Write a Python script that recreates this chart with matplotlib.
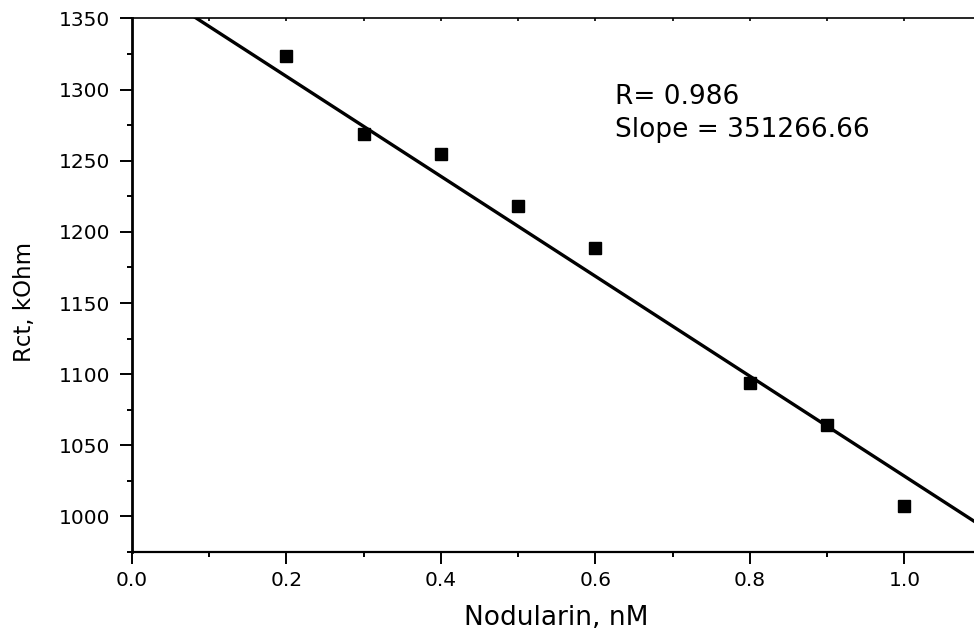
import matplotlib
matplotlib.use("Agg")
import matplotlib.pyplot as plt
import numpy as np

# measured points
conc = [0.2, 0.3, 0.4, 0.5, 0.6, 0.8, 0.9, 1.0]
rct = [1323.5, 1268.5, 1255, 1218, 1188.5, 1094, 1064, 1007.5]

# linear fit shown in the figure
fit_slope = -351.27
fit_intercept = 1379.6
fit_text = "R= 0.986\nSlope = 351266.66"

x_ticks = [0.0, 0.2, 0.4, 0.6, 0.8, 1.0]
y_ticks = [1000, 1050, 1100, 1150, 1200, 1250, 1300, 1350]

plt.rcParams['font.family'] = ['DejaVu Sans']

fig = plt.figure(figsize=(9.74, 6.36), dpi=100)
ax = fig.add_axes([0.1352, 0.132, 0.8727, 0.839])

xl = np.array([0.0, 1.1])
ax.plot(xl, fit_intercept + fit_slope * xl, color="black", lw=2.4, zorder=2)
ax.plot(conc, rct, "s", color="black", ms=8.3, zorder=3)

ax.set_xlim(0, 1.1)
ax.set_ylim(975, 1350)
ax.set_xticks(x_ticks)
ax.set_xticklabels(["%.1f" % t for t in x_ticks])
ax.set_yticks(y_ticks)
ax.set_xticks(np.arange(0.1, 1.1, 0.2), minor=True)
ax.set_yticks(np.arange(975, 1350, 50), minor=True)

ax.spines["right"].set_visible(False)
ax.spines["left"].set_linewidth(2.0)
ax.spines["bottom"].set_linewidth(1.6)
ax.spines["top"].set_linewidth(1.2)

ax.tick_params(which="major", direction="out", length=8.5, width=1.4,
               labelsize=14.5, top=False, right=False)
ax.tick_params(axis="x", which="major", pad=5)
ax.tick_params(axis="y", which="major", pad=7)
ax.tick_params(which="minor", direction="out", length=3.5, width=1.4,
               top=False, right=False)

# small inward ticks on the top line
top = ax.secondary_xaxis("top")
top.set_xticks(np.arange(0.1, 1.1, 0.1))
top.tick_params(direction="in", length=2, width=1.2, labeltop=False)
top.spines["top"].set_visible(False)

ax.set_xlabel("Nodularin, nM", fontsize=19, labelpad=11)
ax.set_ylabel("Rct, kOhm", fontsize=16.5)
ax.yaxis.set_label_coords(-0.112, 0.468)

ax.text(0.5686, 0.877, fit_text, transform=ax.transAxes, fontsize=19,
        va="top", ha="left", linespacing=1.35)

fig.savefig("out.png", dpi=100)
